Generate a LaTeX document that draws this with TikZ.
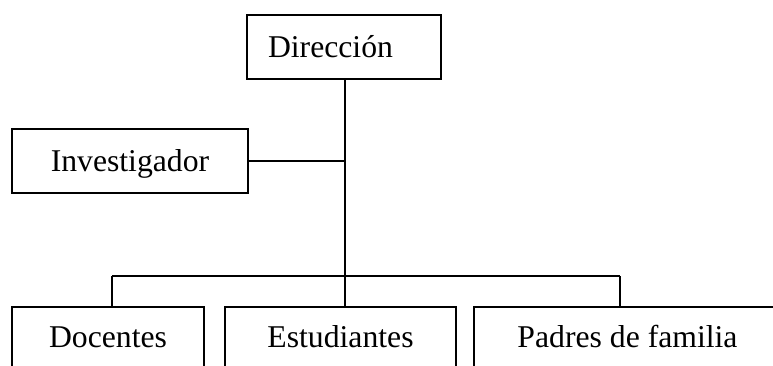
\documentclass[tikz,border=0pt]{standalone}
\usepackage{fontspec}
\setmainfont{Liberation Serif}
\begin{document}
\begin{tikzpicture}[x=1pt,y=1pt,
  every node/.style={font=\fontsize{31.7}{38}\selectfont},
  box/.style={draw, line width=1.8pt, inner sep=0pt, minimum height=64pt,
    text height=25.4pt, text depth=5.4pt},
  lowbox/.style={box, minimum height=60pt},
  link/.style={line width=1.8pt}]
\useasboundingbox (0,0) rectangle (773,-365);
\node[box, text width=152pt, inner xsep=21pt, align=left] (dir) at (344,-47) {Dirección};
\node[box, minimum width=236pt] (inv) at (130,-161) {Investigador};
\node[lowbox, minimum width=192pt] (doc) at (108,-337) {Docentes};
\node[lowbox, minimum width=231pt] (est) at (340.5,-337) {Estudiantes};
\node[lowbox, minimum width=307pt] (pad) at (627.5,-337) {Padres de familia};
\coordinate (trunk) at (345,-276);
\coordinate (bl) at (112,-276);
\coordinate (br) at (620,-276);
\draw[link] (dir.south -| trunk) -- (est.north -| trunk);
\draw[link] (inv.east) -- (inv.east -| trunk);
\draw[link] (bl) -- (br);
\draw[link] (bl) -- (bl |- doc.north);
\draw[link] (br) -- (br |- pad.north);
\end{tikzpicture}
\end{document}
